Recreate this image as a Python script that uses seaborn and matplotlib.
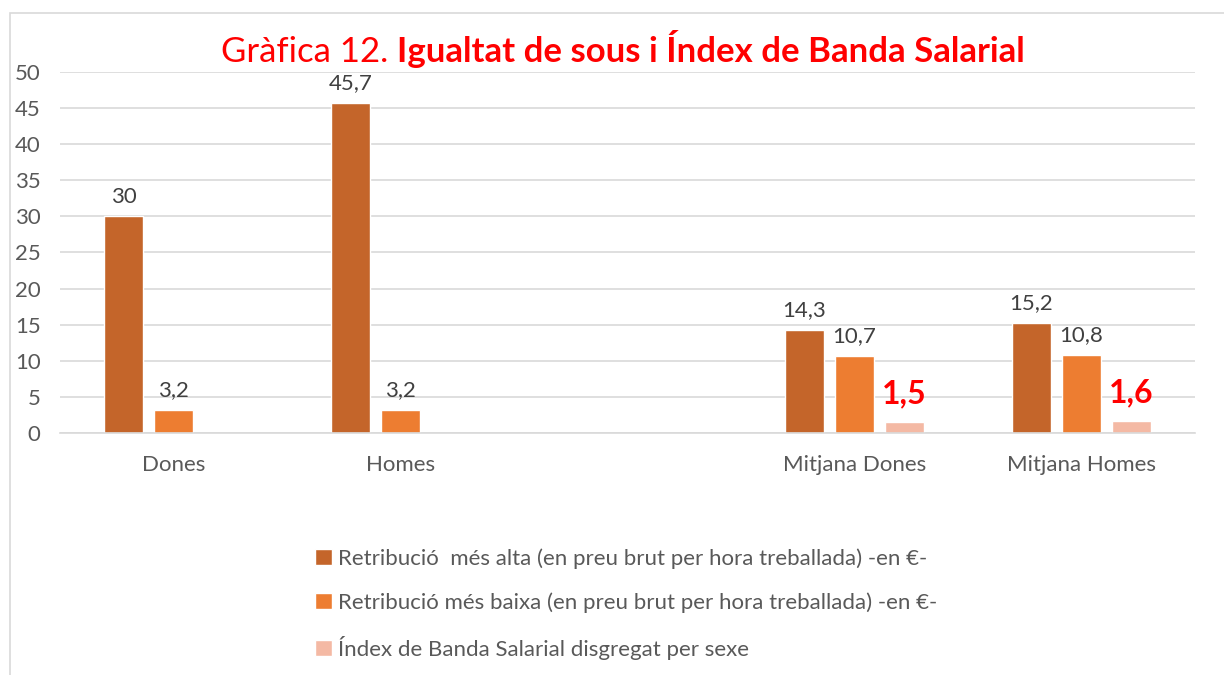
import numpy as np
import pandas as pd
import matplotlib
matplotlib.use("Agg")
import matplotlib.pyplot as plt
import seaborn as sns
from matplotlib.patches import Rectangle

# Data
categories = ["Dones", "Homes", " ", "Mitjana Dones", "Mitjana Homes"]
series = [
    "Retribució  més alta (en preu brut per hora treballada) -en €-",
    "Retribució més baixa (en preu brut per hora treballada) -en €-",
    "Índex de Banda Salarial disgregat per sexe",
]
mes_alta = [30, 45.7, np.nan, 14.3, 15.2]
mes_baixa = [3.2, 3.2, np.nan, 10.7, 10.8]
index_banda = [np.nan, np.nan, np.nan, 1.5, 1.6]
colors = ["#C4652A", "#ED7D31", "#F4B9A4"]

rows = []
for s, vals in zip(series, [mes_alta, mes_baixa, index_banda]):
    for c, v in zip(categories, vals):
        rows.append({"cat": c, "serie": s, "valor": v})
df = pd.DataFrame(rows)

sns.set_style("white")
plt.rcParams["font.family"] = ["Lato", "DejaVu Sans"]

fig = plt.figure(figsize=(12.24, 6.75), dpi=100)
ax = fig.add_axes([60 / 1224, 1 - 433 / 675, 1135 / 1224, 361 / 675])

sns.barplot(data=df.dropna(), x="cat", y="valor", hue="serie", order=categories,
            hue_order=series, palette=colors, width=0.66, gap=0.22,
            errorbar=None, ax=ax, legend=True, saturation=1)

ax.set_ylim(0, 50)
ax.set_xlim(-0.5, 4.5)
ax.set_yticks(range(0, 51, 5))
ax.yaxis.grid(True, color="#D9D9D9", linewidth=1.2)
ax.set_axisbelow(True)
for sp in ["left", "right", "top"]:
    ax.spines[sp].set_visible(False)
ax.spines["bottom"].set_color("#D9D9D9")
ax.spines["bottom"].set_linewidth(1.2)
ax.set_xlabel("")
ax.set_ylabel("")
ax.tick_params(axis="y", length=0, labelsize=16, labelcolor="#595959", pad=14)
ax.tick_params(axis="x", length=0, labelsize=16, labelcolor="#595959", pad=16)
ax.set_xticks(np.arange(-0.5, 4.6, 1), minor=True)
ax.tick_params(axis="x", which="minor", length=6, color="#D9D9D9", width=1.2)

# data labels
for i, cont in enumerate(ax.containers):
    for bar in cont:
        h = bar.get_height()
        if np.isnan(h):
            continue
        txt = f"{h:g}".replace(".", ",")
        if i == 2:
            ax.annotate(txt, (bar.get_x() + bar.get_width() / 2, h), xytext=(0, 10),
                        textcoords="offset points", ha="center", va="bottom",
                        fontsize=23, fontweight="bold", color="#FF0000")
        else:
            ax.annotate(txt, (bar.get_x() + bar.get_width() / 2, h), xytext=(0, 7),
                        textcoords="offset points", ha="center", va="bottom",
                        fontsize=16, color="#404040")

leg = ax.legend(loc="upper left", bbox_to_anchor=(295 / 1224, 1 - 528 / 675),
                bbox_transform=fig.transFigure, frameon=False, fontsize=16,
                labelcolor="#595959", handlelength=0.75, handleheight=0.75,
                handletextpad=0.3, labelspacing=1.05)

# title in two parts
renderer = fig.canvas.get_renderer()
t1 = fig.text(0, 0, "Gràfica 12. ", fontsize=25, color="#FF0000")
t2 = fig.text(0, 0, "Igualtat de sous i Índex de Banda Salarial", fontsize=25,
              color="#FF0000", fontweight="bold")
w1 = t1.get_window_extent(renderer).width
w2 = t2.get_window_extent(renderer).width
x0 = 623 - (w1 + w2) / 2
ty = 1 - 62 / 675
t1.set_position((x0 / 1224, ty))
t2.set_position(((x0 + w1) / 1224, ty))

# outer border
fig.patches.append(Rectangle((10 / 1224, -0.1), 1.2, 1.1 - 13 / 675,
                             transform=fig.transFigure, fill=False,
                             edgecolor="#D9D9D9", linewidth=1.2))

fig.savefig("out.png", dpi=100)
